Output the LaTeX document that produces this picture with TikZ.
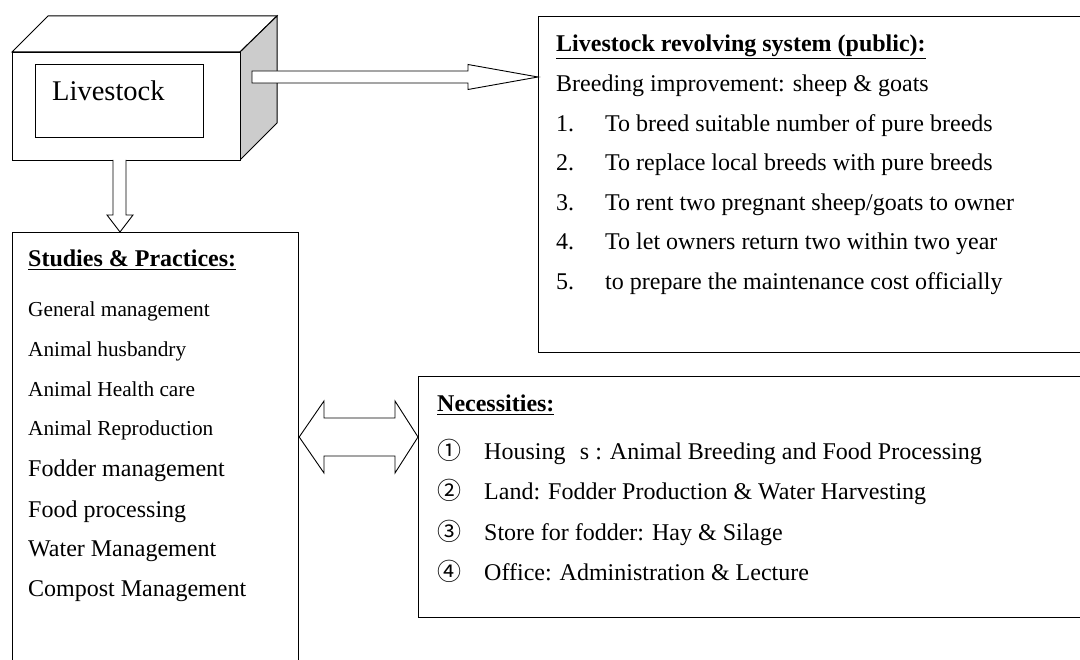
\documentclass[tikz,border=0pt]{standalone}
\usepackage{fontspec}
\setmainfont{Liberation Serif}
\newfontfamily\cjk{Noto Sans CJK JP}
\begin{document}
\begin{tikzpicture}[x=1pt,y=-1pt,
  box/.style={draw=black,line width=1.2pt,fill=white},
  bigarrow/.style={draw=black,line width=0.9pt,fill=white,line join=miter},
  txt/.style={anchor=base west,inner sep=0pt,font=\fontsize{24}{28}\selectfont},
  smalltxt/.style={anchor=base west,inner sep=0pt,font=\fontsize{21.3}{25}\selectfont},
  ttl/.style={anchor=base west,inner sep=0pt,font=\fontsize{24}{28}\selectfont\bfseries}]
\useasboundingbox (0,0) rectangle (1080,660);
\begin{scope}
\clip (0,0) rectangle (1080,660);
% cube
\draw[line width=1pt,fill=white,line join=miter] (12,52) -- (48,16) -- (277,16) -- (240,52) -- cycle;
\draw[line width=1pt,fill=black!20,line join=miter] (240,52) -- (277,16) -- (277,123) -- (240,160) -- cycle;
\node[box,line width=1pt,minimum width=228pt,minimum height=108pt,inner sep=0pt,anchor=north west] (cube) at (12,52) {};
\node[box,line width=1pt,minimum width=168pt,minimum height=73pt,inner sep=0pt,anchor=north west] (inner) at (35,64) {};
\node[anchor=base west,inner sep=0pt,font=\fontsize{28.5}{32}\selectfont] (lv) at (52,101) {Livestock};
% boxes
\node[box,minimum width=560pt,minimum height=336pt,inner sep=0pt,anchor=north west] (rev) at (538,16) {};
\node[box,minimum width=286pt,minimum height=460pt,inner sep=0pt,anchor=north west] (stud) at (12,232) {};
\node[box,minimum width=680pt,minimum height=241pt,inner sep=0pt,anchor=north west] (nec) at (418,376) {};
% arrows
\coordinate (rtip) at (rev.west |- 0,77);
\draw[bigarrow] (252,71) -- (468,71) -- (468,64.5) -- (rtip) -- (468,89.5) -- (468,83) -- (252,83) -- cycle;
\coordinate (dtip) at (120,0 |- stud.north);
\draw[bigarrow] (113,160) -- (113,215) -- (107,215) -- (dtip) -- (133,215) -- (126,215) -- (126,160);
\coordinate (ltip) at (stud.east |- 0,437);
\coordinate (rtip2) at (nec.west |- 0,437);
\draw[bigarrow] (ltip) -- (324,401) -- (324,418) -- (395,418) -- (395,401) -- (rtip2) -- (395,473) -- (395,456) -- (324,456) -- (324,473) -- cycle;
% revolving text
\node[ttl] (t1) at (556,52) {\underline{Livestock revolving system (public):}};
\node[txt] (b0) at (556,92) {Breeding improvement: sheep \& goats};
\node[txt] (n1) at (556,132) {1.};
\node[txt] (i1) at (605,132) {To breed suitable number of pure breeds};
\node[txt] (n2) at (556,171) {2.};
\node[txt] (i2) at (605,171) {To replace local breeds with pure breeds};
\node[txt] (n3) at (556,211) {3.};
\node[txt] (i3) at (605,211) {To rent two pregnant sheep/goats to owner};
\node[txt] (n4) at (556,250) {4.};
\node[txt] (i4) at (605,250) {To let owners return two within two year};
\node[txt] (n5) at (556,290) {5.};
\node[txt] (i5) at (605,290) {to prepare the maintenance cost officially};
% studies text
\node[ttl] (t2) at (28,267) {\underline{Studies \& Practices:}};
\node[smalltxt] (s1) at (28,317) {General management};
\node[smalltxt] (s2) at (28,357) {Animal husbandry};
\node[smalltxt] (s3) at (28,397) {Animal Health care};
\node[smalltxt] (s4) at (28,436) {Animal Reproduction};
\node[txt] (s5) at (28,477) {Fodder management};
\node[txt] (s6) at (28,517) {Food processing};
\node[txt] (s7) at (28,556) {Water Management};
\node[txt] (s8) at (28,596) {Compost Management};
% necessities text
\node[ttl] (t3) at (437,412) {\underline{Necessities:}};
\node[txt] (c1) at (437,460) {\cjk ①};
\node[txt] (h1) at (484,460) {Housing\hspace{0.6em}s : Animal Breeding and Food Processing};
\node[txt] (c2) at (437,500) {\cjk ②};
\node[txt] (h2) at (484,500) {Land: Fodder Production \& Water Harvesting};
\node[txt] (c3) at (437,540) {\cjk ③};
\node[txt] (h3) at (484,540) {Store for fodder: Hay \& Silage};
\node[txt] (c4) at (437,580) {\cjk ④};
\node[txt] (h4) at (484,580) {Office: Administration \& Lecture};
\end{scope}
\end{tikzpicture}
\end{document}
